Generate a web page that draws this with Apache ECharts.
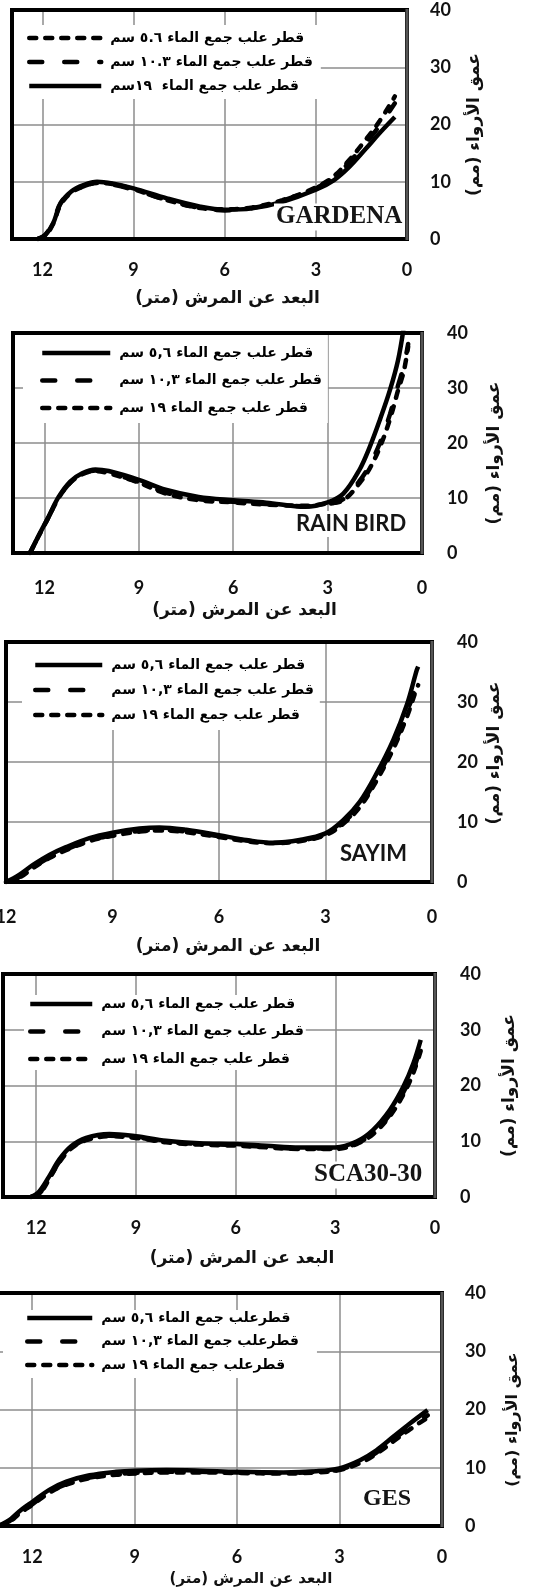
<!DOCTYPE html>
<html>
<head>
<meta charset="utf-8">
<script src="https://cdn.jsdelivr.net/npm/echarts@6/dist/echarts.min.js"></script>
<style>
html,body{margin:0;padding:0;background:#fff;}
#chart{width:555px;height:1593px;}
</style>
</head>
<body>
<div id="chart"></div>
<script>
// ---------------- DATA ----------------
const yTickValues = [0, 10, 20, 30, 40];
const xTickValues = [0, 3, 6, 9, 12];

const xAxisTitle = 'البعد عن المرش (متر)';
const yAxisTitle = 'عمق الأرواء (مم)';

// Panel 1 : GARDENA
const gardenaName = 'GARDENA';
const gardenaLegend = ['قطر علب جمع الماء ٥.٦ سم', 'قطر علب جمع الماء ١٠.٣ سم', 'قطر علب جمع الماء  ١٩سم'];
const gardenaDist = [12.15, 11.9, 11.65, 11.4, 11.05, 10.65, 10.2, 9.7, 9.0, 7.9, 6.8, 6.0, 5.1, 4.1, 3.0, 2.4, 1.9, 1.35, 0.9, 0.4];
const gardena56   = [0, 0.6, 2.6, 6.0, 8.1, 9.2, 9.8, 9.6, 8.7, 6.8, 5.4, 5.2, 5.5, 6.8, 9.0, 11.0, 13.8, 17.4, 20.6, 24.9];
const gardena103  = [0, 0.8, 2.9, 6.3, 8.2, 9.2, 9.8, 9.5, 8.6, 6.8, 5.4, 5.0, 5.4, 6.7, 8.9, 10.8, 13.4, 16.8, 19.8, 23.7];
const gardena19   = [0, 0.7, 2.7, 6.2, 8.3, 9.4, 10.0, 9.7, 8.85, 7.1, 5.65, 5.1, 5.35, 6.5, 8.6, 10.3, 12.6, 15.8, 18.5, 21.3];

// Panel 2 : RAIN BIRD
const rainName = 'RAIN BIRD';
const commonLegend = ['قطر علب جمع الماء ٥,٦ سم', 'قطر علب جمع الماء ١٠,٣ سم', 'قطر علب جمع الماء ١٩ سم'];
const rainDist = [12.46, 12.2, 11.87, 11.55, 11.18, 10.8, 10.38, 9.96, 9.0, 8.15, 7.1, 6.0, 4.95, 3.7, 3.0, 2.5, 2.0, 1.66, 1.34, 1.02, 0.76, 0.58, 0.44];
const rain56  = [0, 3.0, 6.6, 10.2, 13.0, 14.5, 15.2, 14.9, 13.3, 11.5, 10.2, 9.6, 9.15, 8.4, 9.2, 10.8, 15.0, 19.3, 24.2, 29.6, 35.1, 41.0, null];
const rain103 = [0, 2.9, 6.5, 10.0, 12.8, 14.3, 15.0, 14.6, 12.9, 11.0, 9.8, 9.3, 8.9, 8.5, 8.9, 9.8, 13.0, 16.0, 20.0, 25.2, 30.5, 34.0, 38.0];
const rain19  = [0, 2.9, 6.5, 10.0, 12.8, 14.3, 14.9, 14.5, 12.8, 10.8, 9.6, 9.2, 8.8, 8.6, 9.0, 9.6, 12.6, 15.4, 19.2, 24.3, 29.6, 33.0, 37.5];

// Panel 3 : SAYIM
const sayimName = 'SAYIM';
const sayimDist = [12.0, 11.63, 11.25, 10.78, 10.31, 9.65, 9.0, 8.24, 7.68, 6.92, 6.0, 5.23, 4.48, 3.73, 3.0, 2.5, 2.03, 1.56, 1.09, 0.71, 0.43, 0.39];
const sayim56  = [0, 1.2, 2.8, 4.5, 5.8, 7.3, 8.2, 8.9, 9.1, 8.7, 7.8, 7.0, 6.55, 7.0, 8.1, 10.3, 13.4, 18.1, 23.7, 29.5, 35.3, 35.9];
const sayim103 = [0, 0.8, 2.4, 4.1, 5.4, 6.9, 7.8, 8.5, 8.7, 8.4, 7.6, 6.9, 6.5, 6.9, 7.9, 9.9, 12.8, 17.3, 22.7, 28.2, 33.2, 33.8];
const sayim19  = [0, 0.7, 2.3, 4.0, 5.3, 6.8, 7.7, 8.4, 8.6, 8.3, 7.5, 6.8, 6.45, 6.8, 7.8, 9.7, 12.5, 16.9, 22.2, 27.5, 32.3, 32.8];

// Panel 4 : SCA30-30
const scaName = 'SCA30-30';
const scaDist = [12.16, 11.91, 11.61, 11.31, 10.95, 10.5, 9.8, 9.0, 8.09, 7.09, 5.98, 5.08, 4.07, 3.0, 2.36, 1.86, 1.36, 0.95, 0.65, 0.43];
const sca56  = [0, 1.0, 3.7, 6.7, 9.1, 10.6, 11.3, 10.9, 10.1, 9.65, 9.5, 9.2, 8.9, 8.9, 9.95, 12.05, 15.6, 19.8, 24.0, 28.2];
const sca103 = [0, 0.6, 3.3, 6.3, 8.8, 10.3, 11.0, 10.7, 9.9, 9.5, 9.3, 9.0, 8.7, 8.7, 9.6, 11.5, 14.8, 18.8, 22.8, 27.0];
const sca19  = [0, 0.5, 3.2, 6.2, 8.7, 10.2, 10.9, 10.6, 9.8, 9.4, 9.2, 8.9, 8.6, 8.6, 9.5, 11.3, 14.5, 18.4, 22.3, 26.2];

// Panel 5 : GES
const gesName = 'GES';
const gesLegend = ['قطرعلب جمع الماء ٥,٦ سم', 'قطرعلب جمع الماء ١٠,٣ سم', 'قطرعلب جمع الماء ١٩ سم'];
const gesDist = [13.0, 12.67, 12.38, 11.98, 11.5, 11.0, 10.32, 9.54, 9.0, 8.07, 7.1, 6.0, 4.65, 3.68, 3.01, 2.4, 1.92, 1.43, 0.94, 0.42];
const ges56  = [0, 1.0, 2.5, 4.2, 6.2, 7.6, 8.7, 9.3, 9.5, 9.6, 9.5, 9.3, 9.2, 9.4, 9.9, 11.3, 13.0, 15.3, 17.6, 19.9];
const ges103 = [0, 0.8, 2.2, 3.8, 5.8, 7.2, 8.3, 8.9, 9.1, 9.3, 9.3, 9.2, 9.1, 9.3, 9.7, 11.0, 12.6, 14.8, 17.0, 19.0];
const ges19  = [0, 0.7, 2.1, 3.7, 5.7, 7.1, 8.2, 8.8, 9.0, 9.2, 9.2, 9.1, 9.0, 9.2, 9.6, 10.8, 12.4, 14.5, 16.6, 18.6];

// ---------------- LAYOUT / STYLE ----------------
const AR = 'DejaVu Sans';
const NUM = 'Lato';
const DASH = {
  solid: {type: 'solid', cap: 'butt'},
  long:  {type: [13, 22], cap: 'round'},
  short: {type: [7, 9], cap: 'round'}
};

const panels = [
  {title: gardenaName, titleFont: 'Liberation Serif', titleSize: 25, titleLeft: 274, titleTop: 204,
   grid: {left: 12, top: 10, width: 395, height: 229}, xMax: 13,
   names: gardenaLegend, dist: gardenaDist, vals: [gardena56, gardena103, gardena19], styles: ['short', 'long', 'solid'],
   legend: {left: 12, top: 25, padding: [6, 8, 6, 15], itemGap: 10, itemWidth: 72},
   xLabelMargin: 22, xNameGap: 51, xNameShift: 18, xNameSize: 17, xNameWeight: 'bold',
   yLabelMargin: 23, yNameGap: 59, yNameShift: 0, yNameSize: 17, yNameWeight: 'bold'},
  {title: rainName, titleFont: NUM, titleSize: 22, titleLeft: 294, titleTop: 511,
   grid: {left: 13, top: 333, width: 409, height: 220}, xMax: 13,
   names: commonLegend, dist: rainDist, vals: [rain56, rain103, rain19], styles: ['solid', 'long', 'short'],
   legend: {left: 23, top: 333, padding: [13, 6, 8, 17], itemGap: 13.5, itemWidth: 68},
   xLabelMargin: 26, xNameGap: 49, xNameShift: 27, xNameSize: 17, xNameWeight: 'bold',
   yLabelMargin: 25, yNameGap: 64, yNameShift: 10, yNameSize: 17, yNameWeight: 'bold'},
  {title: sayimName, titleFont: NUM, titleSize: 22, titleLeft: 338, titleTop: 841,
   grid: {left: 6, top: 642, width: 426, height: 240}, xMax: 12,
   names: commonLegend, dist: sayimDist, vals: [sayim56, sayim103, sayim19], styles: ['solid', 'long', 'short'],
   legend: {left: 22, top: 642, padding: [16, 6, 8, 11], itemGap: 11, itemWidth: 67},
   xLabelMargin: 26, xNameGap: 56, xNameShift: 9, xNameSize: 17, xNameWeight: 'bold',
   yLabelMargin: 25, yNameGap: 54, yNameShift: -9, yNameSize: 17, yNameWeight: 'bold'},
  {title: scaName, titleFont: 'Liberation Serif', titleSize: 25, titleLeft: 312, titleTop: 1162,
   grid: {left: 3, top: 974, width: 432, height: 223}, xMax: 13,
   names: commonLegend, dist: scaDist, vals: [sca56, sca103, sca19], styles: ['solid', 'long', 'short'],
   legend: {left: 24, top: 995, padding: [2, 2, 4, 4], itemGap: 13.5, itemWidth: 62},
   xLabelMargin: 22, xNameGap: 53, xNameShift: 23, xNameSize: 17, xNameWeight: 'bold',
   yLabelMargin: 25, yNameGap: 66, yNameShift: 0, yNameSize: 17, yNameWeight: 'bold'},
  {title: gesName, titleFont: 'Liberation Serif', titleSize: 24, titleLeft: 361, titleTop: 1486,
   grid: {left: -2, top: 1293, width: 444, height: 233}, xMax: 13,
   names: gesLegend, dist: gesDist, vals: [ges56, ges103, ges19], styles: ['solid', 'long', 'short'],
   legend: {left: 3, top: 1310, padding: [1, 18, 6, 22], itemGap: 9.5, itemWidth: 65},
   xLabelMargin: 22, xNameGap: 46, xNameShift: 31, xNameSize: 15, xNameWeight: 'bold',
   yLabelMargin: 23, yNameGap: 63, yNameShift: 10, yNameSize: 16, yNameWeight: 'bold'}
];

const gridColor = '#8c8c8c';
const option = {
  animation: false,
  backgroundColor: '#fff',
  grid: [], xAxis: [], yAxis: [], series: [], legend: [], title: [], graphic: []
};

panels.forEach((p, gi) => {
  option.grid.push(Object.assign({containLabel: false, outerBoundsMode: 'none', show: false}, p.grid));
  option.xAxis.push({
    gridIndex: gi, type: 'value', min: 0, max: p.xMax, interval: 3, inverse: true,
    axisLine: {show: false}, axisTick: {show: false},
    axisLabel: {margin: p.xLabelMargin, fontFamily: NUM, fontWeight: 'bold', fontSize: 18, color: '#111',
      formatter: v => (xTickValues.indexOf(v) >= 0 ? String(v) : '')},
    splitLine: {show: true, lineStyle: {color: gridColor, width: 1.5}},
    name: xAxisTitle, nameLocation: 'middle', nameGap: p.xNameGap, nameMoveOverlap: false,
    nameTextStyle: {fontFamily: AR, fontWeight: p.xNameWeight, fontSize: p.xNameSize, color: '#111',
      padding: p.xNameShift >= 0 ? [0, 0, 0, 2 * p.xNameShift] : [0, -2 * p.xNameShift, 0, 0]}
  });
  option.yAxis.push({
    gridIndex: gi, type: 'value', position: 'right', min: 0, max: 40, interval: 10,
    axisLine: {show: false}, axisTick: {show: false},
    axisLabel: {margin: p.yLabelMargin, fontFamily: NUM, fontWeight: 'bold', fontSize: 18, color: '#111',
      formatter: v => (yTickValues.indexOf(v) >= 0 ? String(v) : '')},
    splitLine: {show: true, lineStyle: {color: gridColor, width: 1.5}},
    name: yAxisTitle, nameLocation: 'middle', nameRotate: 90, nameGap: p.yNameGap, nameMoveOverlap: false,
    nameTextStyle: {fontFamily: AR, fontWeight: p.yNameWeight, fontSize: p.yNameSize, color: '#111',
      padding: p.yNameShift >= 0 ? [0, 2 * p.yNameShift, 0, 0] : [0, 0, 0, -2 * p.yNameShift]}
  });
  // draw dashed first, solid last
  const order = [0, 1, 2].sort((a, b) => (p.styles[a] === 'solid') - (p.styles[b] === 'solid'));
  order.forEach(k => {
    const st = DASH[p.styles[k]];
    const pts = [];
    p.dist.forEach((d, i) => { if (p.vals[k][i] != null) pts.push([d, p.vals[k][i]]); });
    option.series.push({
      type: 'line', name: p.names[k], xAxisIndex: gi, yAxisIndex: gi,
      data: pts, smooth: 0.35, symbol: 'none', clip: true,
      itemStyle: {color: '#000'},
      lineStyle: {color: '#000', width: 4.5, type: st.type, cap: st.cap},
      emphasis: {disabled: true}
    });
  });
  option.legend.push({
    orient: 'vertical', left: p.legend.left, top: p.legend.top, padding: p.legend.padding,
    itemGap: p.legend.itemGap, itemWidth: p.legend.itemWidth, itemHeight: 14,
    backgroundColor: '#fff', data: p.names, selectedMode: false,
    itemStyle: {opacity: 0, borderWidth: 0},
    lineStyle: {width: 4.5},
    textStyle: {fontFamily: AR, fontWeight: 'bold', fontSize: 14, lineHeight: 14, color: '#000',
      padding: [0, 0, 0, 4]}
  });
  option.title.push({
    text: p.title, left: p.titleLeft, top: p.titleTop, padding: [1, 2], backgroundColor: '#fff',
    textStyle: {fontFamily: p.titleFont, fontWeight: 'bold', fontSize: p.titleSize,
      lineHeight: 24, color: '#151515'}
  });
  const g = p.grid;
  option.graphic.push({
    type: 'rect', z: 100, silent: true,
    shape: {x: g.left, y: g.top, width: g.width, height: g.height},
    style: {fill: null, stroke: '#000', lineWidth: 4}
  });
  option.graphic.push({
    type: 'line', z: 101, silent: true,
    shape: {x1: g.left + g.width, y1: g.top - 1, x2: g.left + g.width, y2: g.top + g.height + 1},
    style: {stroke: '#555', lineWidth: 3}
  });
});

const chart = echarts.init(document.getElementById('chart'), null, {renderer: 'canvas'});
chart.setOption(option);
</script>
</body>
</html>
